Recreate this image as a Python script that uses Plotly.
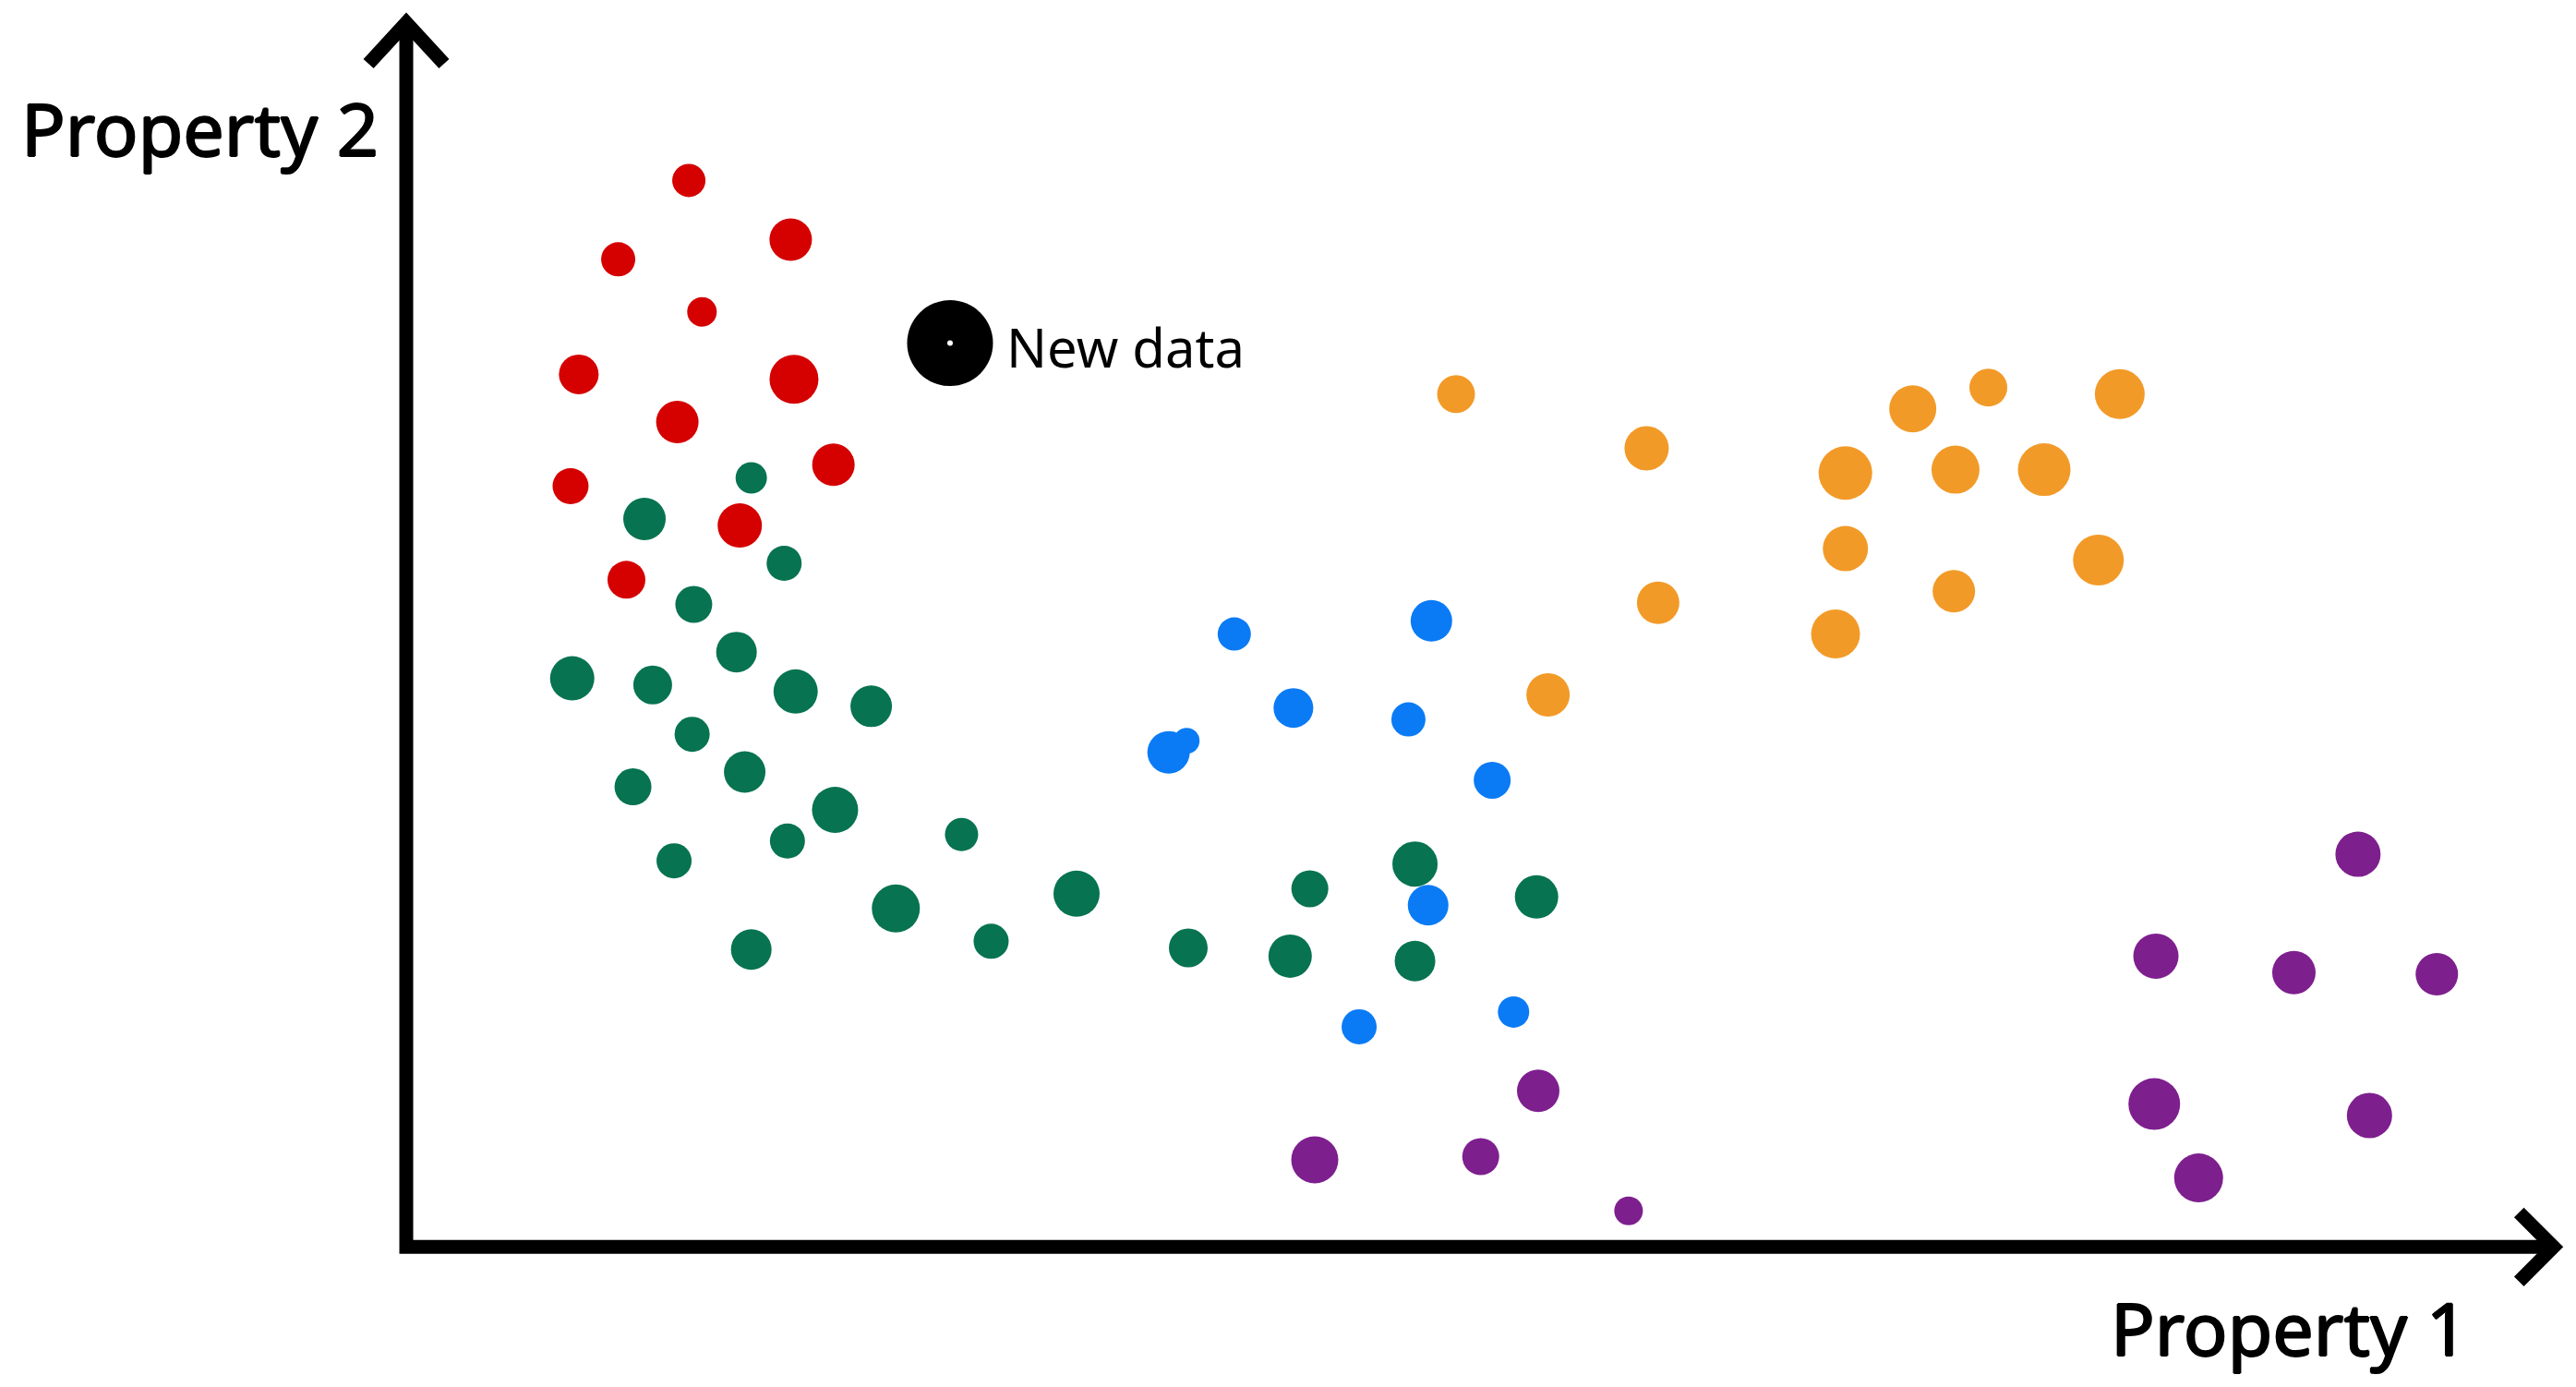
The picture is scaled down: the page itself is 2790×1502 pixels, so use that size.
# plot.py - Dispersión de clusters con un nuevo dato (estilo dibujado a mano)

import plotly.graph_objects as go

# Valores: Property 1 (x), Property 2 (y), tamaño de cada mancha (px)
red_x = [172, 129, 234, 180, 105, 236, 165, 260, 100, 203, 134]
red_y = [649, 601, 613, 569, 531, 528, 502, 476, 463, 439, 406]
red_size = [36, 37, 46, 32, 43, 53, 46, 46, 39, 48, 41]

green_x = [210, 145, 230, 175, 201, 101, 150, 237, 283, 174, 206, 138, 261,
           232, 338, 163, 298, 408, 210, 356, 476, 538, 550, 614, 688, 614]
green_y = [468, 443, 416, 391, 362, 346, 342, 338, 329, 312, 289, 280, 266,
           247, 251, 235, 206, 215, 181, 186, 182, 177, 218, 233, 213, 174]
green_size = [34, 46, 38, 40, 44, 48, 42, 48, 45, 38, 45, 40, 50,
              38, 36, 38, 52, 50, 44, 38, 42, 47, 40, 49, 47, 44]

blue_x = [504, 624, 540, 610, 464, 475, 661, 622, 674, 580]
blue_y = [373, 381, 328, 321, 301, 308, 284, 208, 143, 134]
blue_size = [36, 45, 43, 37, 46, 28, 40, 44, 34, 38]

orange_x = [639, 755, 917, 963, 1043, 876, 943, 997, 876, 1030, 762, 942, 870, 695]
orange_y = [519, 486, 510, 523, 519, 471, 473, 473, 425, 418, 392, 399, 373, 336]
orange_size = [41, 48, 51, 41, 54, 58, 52, 57, 49, 55, 46, 46, 53, 47]

purple_x = [1188, 1065, 1149, 1236, 1064, 1195, 1091, 689, 553, 654, 744]
purple_y = [239, 177, 167, 166, 87, 80, 42, 95, 53, 55, 22]
purple_size = [49, 49, 47, 46, 56, 49, 53, 46, 51, 40, 31]

new_x = [331]
new_y = [550]
new_label = "New data"

x_label = "Property 1"
y_label = "Property 2"

CLUSTERS = [
    (red_x, red_y, red_size, "#D50000"),
    (green_x, green_y, green_size, "#077350"),
    (blue_x, blue_y, blue_size, "#0A7BF5"),
    (orange_x, orange_y, orange_size, "#F29A28"),
    (purple_x, purple_y, purple_size, "#7E1F8E"),
]

FONT = "Noto Sans, sans-serif"
AXIS_W = 15
# Sombra fina para engrosar un poco las etiquetas de los ejes (peso "medium")
LABEL_SHADOW = "1px 0 0 black, -1px 0 0 black, 0 1px 0 black, 0 -1px 0 black"

# El margen del body (8px) desplaza la figura; se compensa en los rangos
X_RANGE = [-242.8, 1325.2]
Y_RANGE = [-89.7, 754.3]


def build_figure() -> go.Figure:
    """Construye el diagrama de dispersión con los ejes en forma de flecha."""
    fig = go.Figure()

    # Manchas de cada grupo
    for xs, ys, sizes, color in CLUSTERS:
        fig.add_trace(go.Scatter(
            x=xs, y=ys, mode="markers",
            marker=dict(size=sizes, color=color, opacity=1, line=dict(width=0)),
            hoverinfo="skip",
        ))

    # Nuevo dato: círculo negro con punto blanco
    fig.add_trace(go.Scatter(
        x=new_x, y=new_y, mode="markers",
        marker=dict(size=93, color="black", opacity=1, line=dict(width=0)),
        hoverinfo="skip",
    ))
    fig.add_trace(go.Scatter(
        x=new_x, y=new_y, mode="markers",
        marker=dict(size=6, color="white", opacity=1, line=dict(width=0)),
        hoverinfo="skip",
    ))

    # Ejes con flechas
    line = dict(color="black", width=AXIS_W)
    fig.add_shape(type="path", path="M 0,745 L 0,0 L 1307,0", line=line, xref="x", yref="y")
    fig.add_shape(type="path", path="M -23,720 L 0,745 L 23,720", line=line, xref="x", yref="y")
    fig.add_shape(type="path", path="M 1286,21 L 1307,0 L 1286,-21", line=line, xref="x", yref="y")

    fig.add_annotation(x=-15.7, y=681, text=y_label, showarrow=False,
                       xanchor="right", yanchor="middle",
                       font=dict(family=FONT, size=79, color="black", shadow=LABEL_SHADOW))
    fig.add_annotation(x=1256, y=-49, text=x_label, showarrow=False,
                       xanchor="right", yanchor="middle",
                       font=dict(family=FONT, size=79, color="black", shadow=LABEL_SHADOW))
    fig.add_annotation(x=new_x[0] + 33, y=new_y[0] - 2, text=new_label, showarrow=False,
                       xanchor="left", yanchor="middle",
                       font=dict(family=FONT, size=58, color="black"))

    fig.update_layout(
        width=2790, height=1502,
        margin=dict(l=0, r=0, t=0, b=0),
        paper_bgcolor="white", plot_bgcolor="white",
        showlegend=False,
        xaxis=dict(range=X_RANGE, visible=False, fixedrange=True),
        yaxis=dict(range=Y_RANGE, visible=False, fixedrange=True),
    )
    return fig


fig = build_figure()
fig.write_html("out.html")
